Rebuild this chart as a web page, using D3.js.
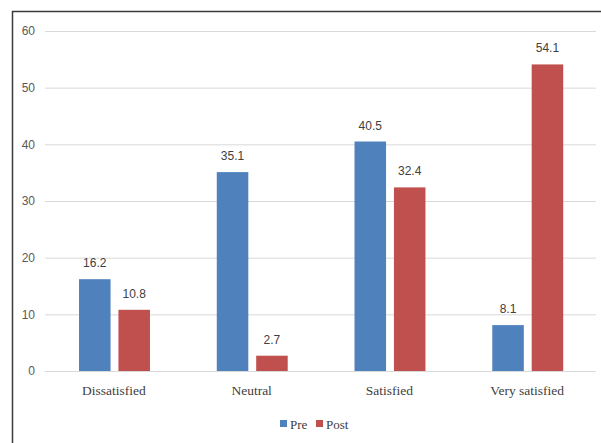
<!DOCTYPE html>
<html>
<head>
<meta charset="utf-8">
<script src="https://cdn.jsdelivr.net/npm/d3@7"></script>
<style>
  html, body { margin: 0; padding: 0; background: #fff; }
  svg { display: block; }
</style>
</head>
<body>
<svg id="chart" width="601" height="443"></svg>
<script>
// Satisfaction ratings before and after, in percent
const categories = ["Dissatisfied", "Neutral", "Satisfied", "Very satisfied"];
const seriesNames = ["Pre", "Post"];
const preValues = [16.2, 35.1, 40.5, 8.1];
const postValues = [10.8, 2.7, 32.4, 54.1];
const yTicks = [0, 10, 20, 30, 40, 50, 60];
const colors = ["#4f81bd", "#c0504d"];

const svg = d3.select("#chart");
const W = 601, H = 443;
const plot = { left: 45, right: 596, top: 31, bottom: 371 };

// Outer frame: top and left edges
svg.append("path")
  .attr("d", `M12.5,${H} L12.5,11.5 L${W},11.5`)
  .attr("fill", "none")
  .attr("stroke", "#3a3a3a")
  .attr("stroke-width", 1.5);

const y = d3.scaleLinear().domain([0, 60]).range([plot.bottom, plot.top]);
const x0 = d3.scaleBand().domain(categories).range([plot.left, plot.right]).paddingInner(0).paddingOuter(0);
const bw = x0.bandwidth();
const x1 = d3.scaleBand().domain(seriesNames)
  .range([bw * 0.247, bw * 0.762])
  .paddingInner(0.2).paddingOuter(0);

// Gridlines and tick labels
const yAxis = d3.axisLeft(y).tickValues(yTicks).tickSize(-(plot.right - plot.left)).tickPadding(10);
const gy = svg.append("g").attr("transform", `translate(${plot.left},0)`).call(yAxis);
gy.select(".domain").remove();
gy.selectAll(".tick line").attr("stroke", "#d9d9d9").attr("stroke-width", 1);
gy.selectAll(".tick text")
  .attr("fill", "#595959")
  .attr("font-family", "'Liberation Sans', Arial, sans-serif")
  .attr("font-size", 12);

// Category axis labels
const xAxis = d3.axisBottom(x0).tickSize(0).tickPadding(14);
const gx = svg.append("g").attr("transform", `translate(0,${plot.bottom})`).call(xAxis);
gx.select(".domain").remove();
gx.selectAll(".tick text")
  .attr("fill", "#404040")
  .attr("font-family", "'Liberation Serif', 'Times New Roman', serif")
  .attr("font-size", 13.5);

// Bars
const rows = categories.map((c, i) => ({ cat: c, vals: [
  { key: "Pre", v: preValues[i] },
  { key: "Post", v: postValues[i] }
]}));

const groups = svg.append("g").selectAll("g").data(rows).join("g")
  .attr("transform", d => `translate(${x0(d.cat)},0)`);

groups.selectAll("rect").data(d => d.vals).join("rect")
  .attr("x", d => x1(d.key))
  .attr("width", x1.bandwidth())
  .attr("y", d => y(d.v))
  .attr("height", d => y(0) - y(d.v))
  .attr("fill", (d, i) => colors[i]);

groups.selectAll("text").data(d => d.vals).join("text")
  .attr("x", d => x1(d.key) + x1.bandwidth() / 2)
  .attr("y", d => y(d.v) - 12)
  .attr("text-anchor", "middle")
  .attr("fill", "#404040")
  .attr("font-family", "'Liberation Sans', Arial, sans-serif")
  .attr("font-size", 12)
  .text(d => d.v.toFixed(1));

// Legend
const legend = svg.append("g").attr("transform", "translate(280,424)");
const legendX = [0, 36];
seriesNames.forEach((name, i) => {
  const g = legend.append("g").attr("transform", `translate(${legendX[i]},0)`);
  g.append("rect").attr("x", 0).attr("y", -4).attr("width", 7).attr("height", 7).attr("fill", colors[i]);
  g.append("text").attr("x", 10).attr("y", 4.5)
    .attr("fill", "#404040")
    .attr("font-family", "'Liberation Serif', 'Times New Roman', serif")
    .attr("font-size", 13)
    .text(name);
});
</script>
</body>
</html>
